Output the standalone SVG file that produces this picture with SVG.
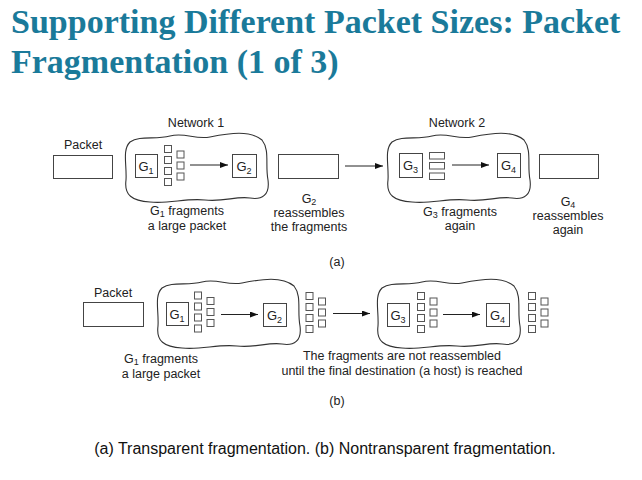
<svg xmlns="http://www.w3.org/2000/svg" xmlns:xlink="http://www.w3.org/1999/xlink" width="642" height="480" viewBox="0 0 642 480">
<style>
.title{font-family:"Liberation Serif","Times New Roman",serif;font-weight:bold;font-size:34px;fill:#1a7a9a}
.t{font-family:"Liberation Sans",Arial,sans-serif;font-size:12.5px;fill:#222;text-anchor:middle}
.g{font-family:"Liberation Sans",Arial,sans-serif;font-size:13px;fill:#222;text-anchor:middle}
.cap{font-family:"Liberation Sans",Arial,sans-serif;font-size:16px;fill:#111;text-anchor:middle}
.box{fill:#fff;stroke:#444;stroke-width:1}
.sq{fill:#fff;stroke:#555;stroke-width:1}
.cloud{fill:none;stroke:#333;stroke-width:1.1}
.arr{fill:none;stroke:#222;stroke-width:1;marker-end:url(#ah)}
</style>
<defs>
<marker id="ah" markerWidth="8" markerHeight="6" refX="8" refY="3" orient="auto" markerUnits="userSpaceOnUse">
<path d="M0,0 L8,3 L0,6 z" fill="#111"/>
</marker>
<path id="cloudShape" class="cloud" d="M 5,8 C 15,1 30,6 45,2 C 60,-2 70,6 85,3 C 105,-1 125,-4 137,6 C 145,16 140,31 143,46 C 145,61 137,66 125,64 C 110,62 100,68 80,66 C 60,64 45,70 25,68 C 7,67 -1,61 1,46 C 2,31 -3,16 5,8 Z"/>
<g id="frag8">
<rect class="sq" x="0" y="0" width="7" height="7"/>
<rect class="sq" x="0" y="11" width="7" height="7"/>
<rect class="sq" x="0" y="22" width="7" height="7"/>
<rect class="sq" x="0" y="33" width="7" height="7"/>
<rect class="sq" x="12.5" y="5.5" width="7" height="7"/>
<rect class="sq" x="12.5" y="16.5" width="7" height="7"/>
<rect class="sq" x="12.5" y="27.5" width="7" height="7"/>
</g>
</defs>
<rect width="642" height="480" fill="#fff"/>

<g id="title">
<text class="title" x="11" y="33">Supporting Different Packet Sizes: Packet</text>
<text class="title" x="11" y="73">Fragmentation (1 of 3)</text>
</g>

<!-- (a) -->
<g id="a-packet">
<text class="t" x="83" y="149">Packet</text>
<rect class="box" x="53.5" y="155.5" width="59" height="23"/>
</g>
<g id="a-network1">
<text class="t" x="196" y="127">Network 1</text>
<use xlink:href="#cloudShape" transform="translate(125,134)"/>
</g>
<g id="a-g1">
<rect class="box" x="135.5" y="154.5" width="22" height="23"/>
<text class="g" x="146" y="171">G<tspan font-size="9" dy="3">1</tspan></text>
</g>
<g id="a-frags1"><use xlink:href="#frag8" transform="translate(164.5,145.5)"/></g>
<g id="a-g2">
<rect class="box" x="232.5" y="154.5" width="24" height="23"/>
<text class="g" x="244" y="171">G<tspan font-size="9" dy="3">2</tspan></text>
</g>
<g id="a-reassembled1">
<rect class="box" x="278.5" y="154.5" width="60" height="24"/>
</g>
<g id="a-network2">
<text class="t" x="457" y="127">Network 2</text>
<use xlink:href="#cloudShape" transform="translate(387,134)"/>
</g>
<g id="a-g3">
<rect class="box" x="399.5" y="153.5" width="23" height="24"/>
<text class="g" x="410.5" y="170">G<tspan font-size="9" dy="3">3</tspan></text>
</g>
<g id="a-frags2">
<rect class="sq" x="429.5" y="152.5" width="15" height="6.5"/>
<rect class="sq" x="429.5" y="162.5" width="15" height="6.5"/>
<rect class="sq" x="429.5" y="173" width="15" height="6.5"/>
</g>
<g id="a-g4">
<rect class="box" x="497.5" y="153.5" width="23" height="24"/>
<text class="g" x="508.5" y="170">G<tspan font-size="9" dy="3">4</tspan></text>
</g>
<g id="a-reassembled2">
<rect class="box" x="539.5" y="154.5" width="59" height="24"/>
</g>
<g id="a-labels">
<text class="t" x="187" y="215">G<tspan font-size="9" dy="2">1</tspan><tspan dy="-2"> fragments</tspan></text>
<text class="t" x="187" y="230">a large packet</text>
<text class="t" x="309" y="203">G<tspan font-size="9" dy="2">2</tspan></text>
<text class="t" x="309" y="217">reassembles</text>
<text class="t" x="309" y="231">the fragments</text>
<text class="t" x="460" y="216">G<tspan font-size="9" dy="2">3</tspan><tspan dy="-2"> fragments</tspan></text>
<text class="t" x="460" y="230">again</text>
<text class="t" x="568" y="206">G<tspan font-size="9" dy="2">4</tspan></text>
<text class="t" x="568" y="220">reassembles</text>
<text class="t" x="568" y="234">again</text>
<text class="t" x="337" y="266">(a)</text>
</g>

<!-- (b) -->
<g id="b-packet">
<text class="t" x="113" y="297">Packet</text>
<rect class="box" x="83.5" y="302.5" width="60" height="24"/>
</g>
<g id="b-network1">
<use xlink:href="#cloudShape" transform="translate(157,280)"/>
</g>
<g id="b-g1">
<rect class="box" x="166.5" y="302.5" width="22" height="23"/>
<text class="g" x="177" y="319">G<tspan font-size="9" dy="3">1</tspan></text>
</g>
<g id="b-frags1"><use xlink:href="#frag8" transform="translate(194.5,292)"/></g>
<g id="b-g2">
<rect class="box" x="263.5" y="303.5" width="23" height="23"/>
<text class="g" x="274.5" y="320">G<tspan font-size="9" dy="3">2</tspan></text>
</g>
<g id="b-frags2"><use xlink:href="#frag8" transform="translate(306,292.5)"/></g>
<g id="b-network2">
<use xlink:href="#cloudShape" transform="translate(377,280)"/>
</g>
<g id="b-g3">
<rect class="box" x="387.5" y="303.5" width="22" height="23"/>
<text class="g" x="398" y="320">G<tspan font-size="9" dy="3">3</tspan></text>
</g>
<g id="b-frags3"><use xlink:href="#frag8" transform="translate(417.5,292.5)"/></g>
<g id="b-g4">
<rect class="box" x="486.5" y="303.5" width="23" height="23"/>
<text class="g" x="497.5" y="320">G<tspan font-size="9" dy="3">4</tspan></text>
</g>
<g id="b-frags4"><use xlink:href="#frag8" transform="translate(528.5,292.5)"/></g>
<g id="b-labels">
<text class="t" x="161" y="363">G<tspan font-size="9" dy="2">1</tspan><tspan dy="-2"> fragments</tspan></text>
<text class="t" x="161" y="378">a large packet</text>
<text class="t" x="402" y="360">The fragments are not reassembled</text>
<text class="t" x="402" y="375">until the final destination (a host) is reached</text>
<text class="t" x="337" y="405">(b)</text>
</g>

<g id="connectors">
<line class="arr" x1="190" y1="165" x2="228" y2="165"/>
<line class="arr" x1="345" y1="166" x2="383" y2="166"/>
<line class="arr" x1="452" y1="165" x2="489" y2="165"/>
<line class="arr" x1="221" y1="314.5" x2="258" y2="314.5"/>
<line class="arr" x1="333" y1="313.5" x2="370" y2="313.5"/>
<line class="arr" x1="443" y1="314.5" x2="480" y2="314.5"/>
</g>

<g id="caption">
<text class="cap" x="325" y="454">(a) Transparent fragmentation. (b) Nontransparent fragmentation.</text>
</g>
</svg>
